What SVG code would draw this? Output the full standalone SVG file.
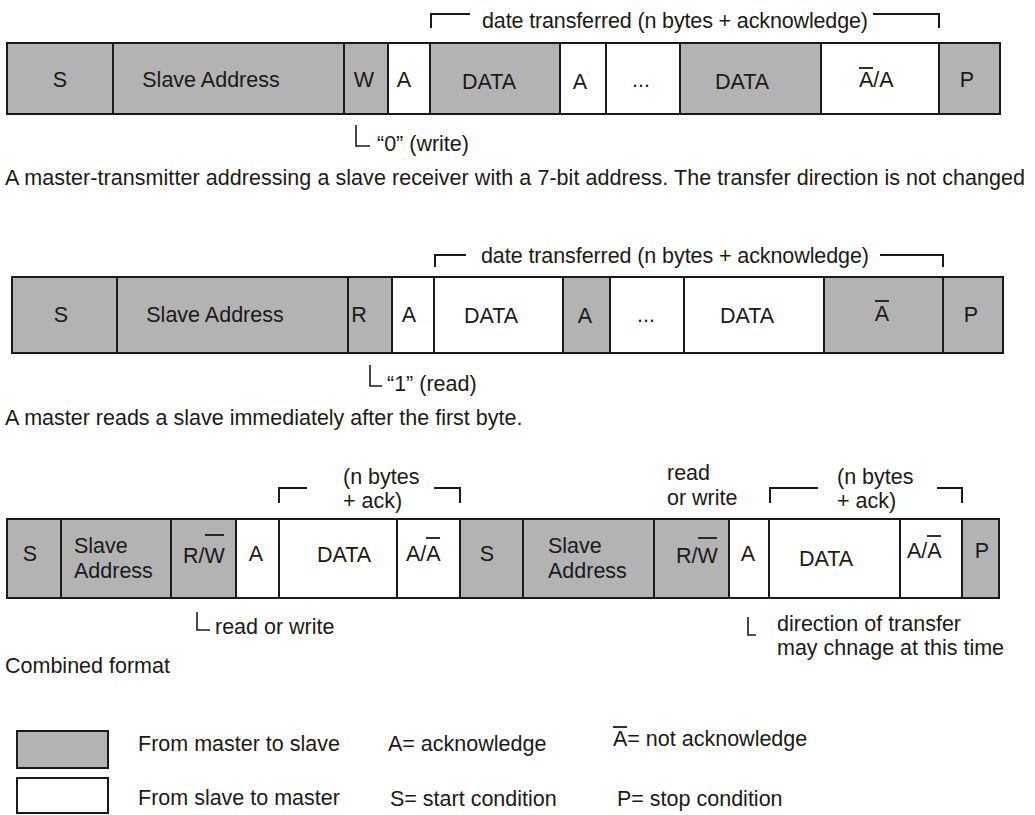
<svg xmlns="http://www.w3.org/2000/svg" width="1035" height="815" viewBox="0 0 1035 815">
<style>
.g{fill:#b3b3b3;stroke:#1a1a1a;stroke-width:2}
.w{fill:#ffffff;stroke:#1a1a1a;stroke-width:2}
text{font-family:"Liberation Sans",Arial,sans-serif;font-size:21.5px;fill:#1a1a1a}
.c{text-anchor:middle}
.ln{fill:none;stroke:#1a1a1a;stroke-width:2}
.an{fill:none;stroke:#1a1a1a;stroke-width:1.6}
.ov{stroke:#1a1a1a;stroke-width:1.8}
</style>
<rect width="1035" height="815" fill="#ffffff"/>

<g id="row1">
<g id="r1-s"><rect class="g" x="7" y="43" width="106" height="71"/><text class="c" x="60" y="87">S</text></g>
<g id="r1-addr"><rect class="g" x="113" y="43" width="231" height="71"/><text class="c" x="211" y="87">Slave Address</text></g>
<g id="r1-w"><rect class="g" x="344" y="43" width="44" height="71"/><text class="c" x="364" y="87">W</text></g>
<g id="r1-a1"><rect class="w" x="388" y="43" width="42" height="71"/><text class="c" x="404" y="87">A</text></g>
<g id="r1-data1"><rect class="g" x="430" y="43" width="130" height="71"/><text class="c" x="489" y="89">DATA</text></g>
<g id="r1-a2"><rect class="w" x="560" y="43" width="46" height="71"/><text class="c" x="580" y="89">A</text></g>
<g id="r1-dots"><rect class="w" x="606" y="43" width="74" height="71"/><text class="c" x="641" y="87">...</text></g>
<g id="r1-data2"><rect class="g" x="680" y="43" width="141" height="71"/><text class="c" x="742" y="89">DATA</text></g>
<g id="r1-aa"><rect class="w" x="821" y="43" width="118" height="71"/><text x="859" y="87">A/A</text><line class="ov" x1="859" y1="68" x2="873" y2="68"/></g>
<g id="r1-p"><rect class="g" x="939" y="43" width="61" height="71"/><text class="c" x="967" y="87">P</text></g>
</g>

<g id="row2">
<g id="r2-s"><rect class="g" x="12" y="277" width="105" height="76"/><text class="c" x="61" y="322">S</text></g>
<g id="r2-addr"><rect class="g" x="117" y="277" width="231" height="76"/><text class="c" x="215" y="322">Slave Address</text></g>
<g id="r2-r"><rect class="g" x="348" y="277" width="44" height="76"/><text class="c" x="359" y="322">R</text></g>
<g id="r2-a1"><rect class="w" x="392" y="277" width="42" height="76"/><text class="c" x="409" y="322">A</text></g>
<g id="r2-data1"><rect class="w" x="434" y="277" width="129" height="76"/><text class="c" x="491" y="323">DATA</text></g>
<g id="r2-a2"><rect class="g" x="563" y="277" width="47" height="76"/><text class="c" x="585" y="323">A</text></g>
<g id="r2-dots"><rect class="w" x="610" y="277" width="74" height="76"/><text class="c" x="646" y="322">...</text></g>
<g id="r2-data2"><rect class="w" x="684" y="277" width="140" height="76"/><text class="c" x="747" y="323">DATA</text></g>
<g id="r2-na"><rect class="g" x="824" y="277" width="119" height="76"/><text class="c" x="882" y="321">A</text><line class="ov" x1="875" y1="301" x2="889" y2="301"/></g>
<g id="r2-p"><rect class="g" x="943" y="277" width="60" height="76"/><text class="c" x="971" y="322">P</text></g>
</g>

<g id="row3">
<g id="r3-s1"><rect class="g" x="7" y="519" width="54" height="79"/><text class="c" x="30" y="561">S</text></g>
<g id="r3-addr1"><rect class="g" x="61" y="519" width="110" height="79"/><text x="74" y="553">Slave</text><text x="74" y="578">Address</text></g>
<g id="r3-rw1"><rect class="g" x="171" y="519" width="65" height="79"/><text x="183" y="563">R/W</text><line class="ov" x1="205" y1="535" x2="224" y2="535"/></g>
<g id="r3-a1"><rect class="w" x="236" y="519" width="43" height="79"/><text class="c" x="256" y="561">A</text></g>
<g id="r3-data1"><rect class="w" x="279" y="519" width="118" height="79"/><text class="c" x="344" y="562">DATA</text></g>
<g id="r3-aa1"><rect class="w" x="397" y="519" width="63" height="79"/><text x="406" y="561">A/A</text><line class="ov" x1="426" y1="538" x2="440" y2="538"/></g>
<g id="r3-s2"><rect class="g" x="460" y="519" width="63" height="79"/><text class="c" x="487" y="561">S</text></g>
<g id="r3-addr2"><rect class="g" x="523" y="519" width="131" height="79"/><text x="548" y="553">Slave</text><text x="548" y="578">Address</text></g>
<g id="r3-rw2"><rect class="g" x="654" y="519" width="75" height="79"/><text x="676" y="563">R/W</text><line class="ov" x1="698" y1="538" x2="717" y2="538"/></g>
<g id="r3-a2"><rect class="w" x="729" y="519" width="40" height="79"/><text class="c" x="748" y="561">A</text></g>
<g id="r3-data2"><rect class="w" x="769" y="519" width="131" height="79"/><text class="c" x="826" y="566">DATA</text></g>
<g id="r3-aa2"><rect class="w" x="900" y="519" width="62" height="79"/><text x="907" y="558">A/A</text><line class="ov" x1="927" y1="536" x2="941" y2="536"/></g>
<g id="r3-p"><rect class="g" x="962" y="519" width="37" height="79"/><text class="c" x="982" y="558">P</text></g>
</g>

<g id="connectors">
<path class="ln" d="M431,28 V14 H470"/>
<path class="ln" d="M873,14 H939 V28"/>
<path class="an" d="M356,125 V146 H370"/>
<path class="ln" d="M435,267 V255 H466"/>
<path class="ln" d="M880,255 H943 V267"/>
<path class="an" d="M370,365 V386 H382"/>
<path class="ln" d="M279,503 V488 H307"/>
<path class="ln" d="M434,488 H460 V503"/>
<path class="ln" d="M770,503 V488 H818"/>
<path class="ln" d="M937,488 H962 V503"/>
<path class="an" d="M197,612 V630 H210"/>
<path class="an" d="M748,617 V635 H756"/>
</g>

<g id="labels">
<text x="482" y="28" textLength="386">date transferred (n bytes + acknowledge)</text>
<text x="377" y="151">“0” (write)</text>
<text x="5" y="185" textLength="1020">A master-transmitter addressing a slave receiver with a 7-bit address. The transfer direction is not changed</text>
<text x="481" y="263" textLength="388">date transferred (n bytes + acknowledge)</text>
<text x="387" y="391">“1” (read)</text>
<text x="5" y="425">A master reads a slave immediately after the first byte.</text>
<text x="343" y="484">(n bytes</text>
<text x="343" y="508">+ ack)</text>
<text x="667" y="480">read</text>
<text x="667" y="505">or write</text>
<text x="837" y="484">(n bytes</text>
<text x="837" y="508">+ ack)</text>
<text x="215" y="634">read or write</text>
<text x="777" y="631">direction of transfer</text>
<text x="777" y="655">may chnage at this time</text>
<text x="5" y="673">Combined format</text>
</g>

<g id="legend">
<g id="leg-master"><rect class="g" x="17" y="731" width="91" height="37"/><text x="138" y="751">From master to slave</text></g>
<g id="leg-slave"><rect class="w" x="17" y="778" width="91" height="35"/><text x="138" y="805">From slave to master</text></g>
<text x="388" y="751">A= acknowledge</text>
<text x="390" y="806">S= start condition</text>
<text x="613" y="746">A= not acknowledge</text><line class="ov" x1="613" y1="727" x2="627" y2="727"/>
<text x="617" y="806">P= stop condition</text>
</g>
</svg>
